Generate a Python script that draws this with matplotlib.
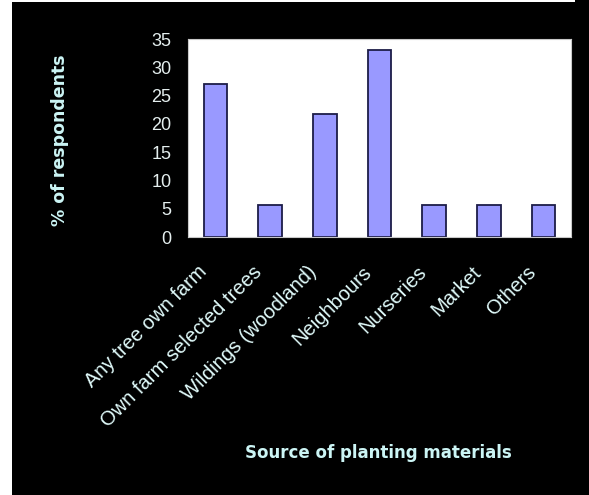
import matplotlib
matplotlib.use("Agg")
import matplotlib.pyplot as plt
from matplotlib.patches import Rectangle
from matplotlib.transforms import ScaledTranslation, blended_transform_factory

categories = ["Any tree own farm", "Own farm selected trees", "Wildings (woodland)",
              "Neighbours", "Nurseries", "Market", "Others"]
values = [27, 5.7, 21.8, 33.1, 5.7, 5.7, 5.7]
yticks = [0, 5, 10, 15, 20, 25, 30, 35]

W, H = 589, 495
fig = plt.figure(figsize=(W / 100, H / 100), dpi=100, facecolor="black")
# white framing strips of the screenshot
fig.patches.append(Rectangle((0, 0), 12 / W, 1, transform=fig.transFigure,
                             facecolor="white", edgecolor="none", zorder=0))
fig.patches.append(Rectangle((0, 1 - 2 / H), 575 / W, 2 / H, transform=fig.transFigure,
                             facecolor="white", edgecolor="none", zorder=0))

ax = fig.add_axes([188 / W, 1 - 237 / H, (571 - 188) / W, (237 - 39) / H])
ax.set_facecolor("white")
x = list(range(len(categories)))
ax.bar(x, values, width=0.43, color="#9999FF", edgecolor="#1c1c48", linewidth=1.3)
ax.set_xlim(-0.5, len(categories) - 0.5)
ax.set_ylim(0, 35)
ax.set_yticks(yticks)
ax.set_yticklabels([str(t) for t in yticks], fontsize=13, color="#e4eeee",
                   family=["Liberation Sans", "DejaVu Sans"])
ax.set_xticks(x)
ax.set_xticklabels([])
ax.tick_params(axis="y", length=0, pad=12)
ax.tick_params(axis="x", length=0)

# category labels, rotated 45 degrees below the axis
trans = blended_transform_factory(ax.transData, ax.transAxes) + \
    ScaledTranslation(-0.11, -0.32, fig.dpi_scale_trans)
for xi, cat in zip(x, categories):
    ax.text(xi, 0, cat, transform=trans, rotation=45, ha="right", va="center",
            rotation_mode="anchor", fontsize=14.5, color="#e0fafa",
            family=["Liberation Sans", "DejaVu Sans"], clip_on=False)

for s in ax.spines.values():
    s.set_color("#c8c8c8")
    s.set_linewidth(0.8)

fig.text(60 / W, 1 - 140 / H, "% of respondents", rotation=90, ha="center", va="center",
         fontsize=12.5, fontweight="bold", color="#ccf5f5", family=["DejaVu Sans"])
fig.text(378 / W, 1 - 453 / H, "Source of planting materials", ha="center", va="center",
         fontsize=12, fontweight="bold", color="#ccf5f5", family=["DejaVu Sans"])

fig.savefig("out.png", dpi=100, facecolor="black")
